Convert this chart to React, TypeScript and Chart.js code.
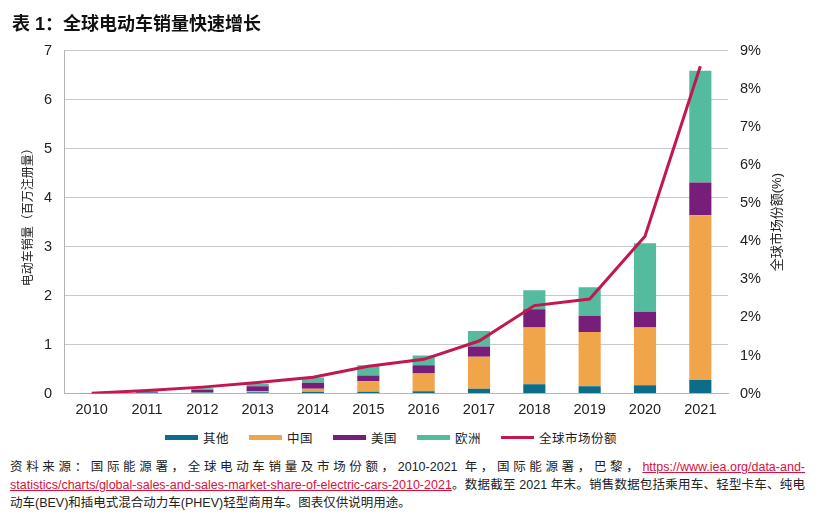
import { useEffect, useRef } from "react";
import { Chart, registerables } from "chart.js";

Chart.register(...registerables);

const FONT = '"Liberation Sans", "Noto Sans CJK SC", sans-serif';

const years = ["2010", "2011", "2012", "2013", "2014", "2015", "2016", "2017", "2018", "2019", "2020", "2021"];
const others = [0.005, 0.02, 0.02, 0.03, 0.04, 0.04, 0.05, 0.1, 0.19, 0.15, 0.17, 0.28];
const china = [0.002, 0.005, 0.01, 0.02, 0.06, 0.21, 0.36, 0.65, 1.16, 1.11, 1.18, 3.36];
const usa = [0.002, 0.015, 0.05, 0.1, 0.12, 0.12, 0.17, 0.21, 0.37, 0.33, 0.32, 0.67];
const europe = [0.002, 0.01, 0.03, 0.05, 0.11, 0.21, 0.2, 0.32, 0.39, 0.58, 1.4, 2.28];
const marketShare = [0.01, 0.08, 0.17, 0.29, 0.43, 0.72, 0.9, 1.38, 2.31, 2.48, 4.13, 8.59];

const seriesNames = ["其他", "中国", "美国", "欧洲", "全球市场份额"];
const seriesColors = ["#0B6D8A", "#F1A54B", "#771E7B", "#55BB9E", "#C2174F"];

const leftTitle = "电动车销量（百万注册量）";
const rightTitle = "全球市场份额(%)";

const axisTitlesPlugin = {
  id: "axisTitles",
  afterDraw(chart: any) {
    const { ctx, chartArea } = chart;
    const cy = (chartArea.top + chartArea.bottom) / 2;
    ctx.save();
    ctx.fillStyle = "#222";
    ctx.textAlign = "center";
    ctx.textBaseline = "middle";
    ctx.font = `12px ${FONT}`;
    ctx.save();
    ctx.translate(29, cy - 8);
    ctx.rotate(-Math.PI / 2);
    ctx.fillText(leftTitle, 0, 0);
    ctx.restore();
    ctx.font = `13px ${FONT}`;
    ctx.save();
    ctx.translate(777, cy);
    ctx.rotate(-Math.PI / 2);
    ctx.fillText(rightTitle, 0, 0);
    ctx.restore();
    ctx.restore();
  },
};

function ChartView() {
  const ref = useRef<HTMLCanvasElement | null>(null);
  useEffect(() => {
    if (!ref.current) return;
    const tickFont = { family: FONT, size: 14.5 };
    const barSets = [others, china, usa, europe].map((d, i) => ({
      type: "bar" as const,
      label: seriesNames[i],
      data: d,
      backgroundColor: seriesColors[i],
      borderWidth: 0,
      barPercentage: 0.4,
      categoryPercentage: 1,
      yAxisID: "y",
      order: 1,
    }));
    const chart = new Chart(ref.current, {
      type: "bar",
      data: {
        labels: years,
        datasets: [
          ...barSets,
          {
            type: "line" as const,
            label: seriesNames[4],
            data: marketShare,
            borderColor: seriesColors[4],
            backgroundColor: seriesColors[4],
            borderWidth: 3,
            pointRadius: 0,
            tension: 0,
            fill: false,
            yAxisID: "y1",
            order: 0,
          } as any,
        ],
      },
      options: {
        responsive: false,
        animation: false,
        devicePixelRatio: 1,
        layout: { padding: { top: 20, bottom: 0, left: 0, right: 0 } },
        plugins: {
          tooltip: { enabled: false },
          legend: { display: false },
        },
        scales: {
          x: {
            stacked: true,
            grid: { display: false, drawTicks: false },
            border: { display: true, color: "#b5b5b5" },
            ticks: { font: tickFont, color: "#222", padding: 8 },
          },
          y: {
            stacked: true,
            position: "left",
            min: 0,
            max: 7,
            ticks: { stepSize: 1, font: tickFont, color: "#222", padding: 12 },
            grid: { color: "#c8c8c8", drawTicks: false },
            border: { display: true, color: "#b5b5b5" },
            afterFit: (s: any) => {
              s.width = 64;
            },
          },
          y1: {
            position: "right",
            min: 0,
            max: 9,
            ticks: {
              stepSize: 1,
              font: tickFont,
              color: "#222",
              padding: 12,
              callback: (v: any) => `${v}%`,
            },
            grid: { display: false, drawTicks: false },
            border: { display: false },
            afterFit: (s: any) => {
              s.width = 87;
            },
          },
        },
      },
      plugins: [axisTitlesPlugin],
    });
    return () => chart.destroy();
  }, []);
  return <canvas ref={ref} width={815} height={397} style={{ display: "block" }} />;
}

function Legend() {
  return (
    <div
      style={{
        position: "absolute",
        left: 165,
        top: 428,
        height: 18,
        display: "flex",
        alignItems: "center",
        gap: 20,
        fontSize: 12.5,
        whiteSpace: "nowrap",
      }}
    >
      {seriesNames.map((n, i) => (
        <div key={n} style={{ display: "flex", alignItems: "center", gap: 5 }}>
          <span
            style={{
              display: "inline-block",
              width: 33,
              height: i === 4 ? 3 : 5,
              background: seriesColors[i],
            }}
          />
          <span style={{ letterSpacing: 0.5 }}>{n}</span>
        </div>
      ))}
    </div>
  );
}

export default function App() {
  const lineStyle: any = { whiteSpace: "nowrap", textAlign: "justify", textAlignLast: "justify" };
  const linkStyle: any = { color: "#D8103C", textDecoration: "underline" };
  return (
    <div
      style={{
        position: "fixed",
        left: 0,
        top: 0,
        width: 815,
        height: 523,
        background: "#fff",
        fontFamily: FONT,
        color: "#222",
        overflow: "hidden",
      }}
    >
      <div style={{ position: "absolute", left: 0, top: 30, width: 815, height: 397 }}>
        <ChartView />
      </div>
      <Legend />
      <div
        style={{
          position: "absolute",
          left: 12,
          top: 9,
          fontSize: 18,
          fontWeight: "bold",
          color: "#111",
          whiteSpace: "nowrap",
        }}
      >
        表 1：全球电动车销量快速增长
      </div>
      <div
        style={{
          position: "absolute",
          left: 10,
          top: 458,
          width: 795,
          fontSize: 12.5,
          lineHeight: "18px",
        }}
      >
        <div style={lineStyle}>
          资料来源：国际能源署，全球电动车销量及市场份额，2010-2021 年，国际能源署，巴黎，
          <a style={linkStyle} href="#">https://www.iea.org/data-and-</a>
        </div>
        <div style={lineStyle}>
          <a style={linkStyle} href="#">statistics/charts/global-sales-and-sales-market-share-of-electric-cars-2010-2021</a>
          。数据截至 2021 年末。销售数据包括乘用车、轻型卡车、纯电
        </div>
        <div style={{ whiteSpace: "nowrap" }}>动车(BEV)和插电式混合动力车(PHEV)轻型商用车。图表仅供说明用途。</div>
      </div>
    </div>
  );
}
